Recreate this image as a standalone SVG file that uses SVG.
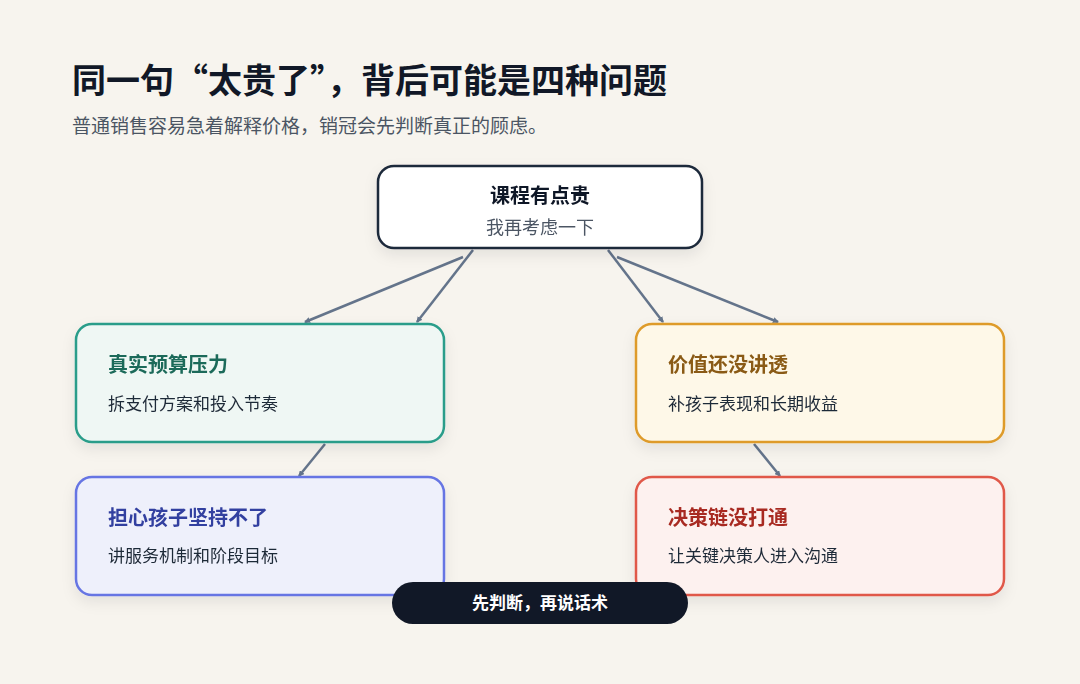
<svg xmlns="http://www.w3.org/2000/svg" width="1080" height="684" viewBox="0 0 1080 684">
<defs>
<style>
text{font-family:"Noto Sans CJK SC","Noto Sans",sans-serif}
.t{font-size:20px;font-weight:700}
.s{font-size:17px;fill:#1f2937}
.c{stroke:#64748b;stroke-width:2.5;fill:none;marker-end:url(#a)}
</style>
<marker id="a" markerWidth="6" markerHeight="6" refX="5" refY="3" orient="auto" markerUnits="userSpaceOnUse"><path d="M0,0L6,3L0,6z" fill="#64748b"/></marker>
<filter id="sh" x="-10%" y="-20%" width="120%" height="150%"><feDropShadow dx="0" dy="6" stdDeviation="7" flood-color="#000" flood-opacity="0.08"/></filter>
</defs>
<rect width="1080" height="684" fill="#f7f4ee"/>
<text x="72" y="93" font-size="34" font-weight="700" fill="#111827">同一句“太贵了”，背后可能是四种问题</text>
<text x="72" y="133" font-size="19" fill="#4b5563">普通销售容易急着解释价格，销冠会先判断真正的顾虑。</text>
<g id="connectors">
<path class="c" d="M463,257L305,322"/>
<path class="c" d="M473,250L417,322"/>
<path class="c" d="M608,250L663,322"/>
<path class="c" d="M617,257L778,322"/>
<path class="c" d="M325,444L299,476"/>
<path class="c" d="M754,444L780,476"/>
</g>
<g id="root" filter="url(#sh)"><rect x="378" y="166" width="324" height="82" rx="16" fill="#fff" stroke="#1e293b" stroke-width="2.5"/>
<text x="540" y="203" text-anchor="middle" font-size="20" font-weight="700" fill="#111827">课程有点贵</text>
<text x="540" y="234" text-anchor="middle" font-size="18" fill="#4b5563">我再考虑一下</text></g>
<g id="n1" filter="url(#sh)"><rect x="76" y="324" width="368" height="118" rx="16" fill="#eff7f4" stroke="#2a9d8a" stroke-width="2.5"/>
<text class="t" x="108" y="372" fill="#1d6b5a">真实预算压力</text><text class="s" x="108" y="410">拆支付方案和投入节奏</text></g>
<g id="n2" filter="url(#sh)"><rect x="636" y="324" width="368" height="118" rx="16" fill="#fef8e8" stroke="#de9b2a" stroke-width="2.5"/>
<text class="t" x="668" y="372" fill="#8a5a12">价值还没讲透</text><text class="s" x="668" y="410">补孩子表现和长期收益</text></g>
<g id="n3" filter="url(#sh)"><rect x="76" y="477" width="368" height="118" rx="16" fill="#eef0fb" stroke="#6675e3" stroke-width="2.5"/>
<text class="t" x="108" y="525" fill="#3340a0">担心孩子坚持不了</text><text class="s" x="108" y="562">讲服务机制和阶段目标</text></g>
<g id="n4" filter="url(#sh)"><rect x="636" y="477" width="368" height="118" rx="16" fill="#fdf1ef" stroke="#e0594a" stroke-width="2.5"/>
<text class="t" x="668" y="525" fill="#a82c22">决策链没打通</text><text class="s" x="668" y="562">让关键决策人进入沟通</text></g>
<g id="badge"><rect x="392" y="582" width="296" height="42" rx="21" fill="#111827"/>
<text x="540" y="609" text-anchor="middle" font-size="17" font-weight="700" fill="#fff">先判断，再说话术</text></g>
</svg>
